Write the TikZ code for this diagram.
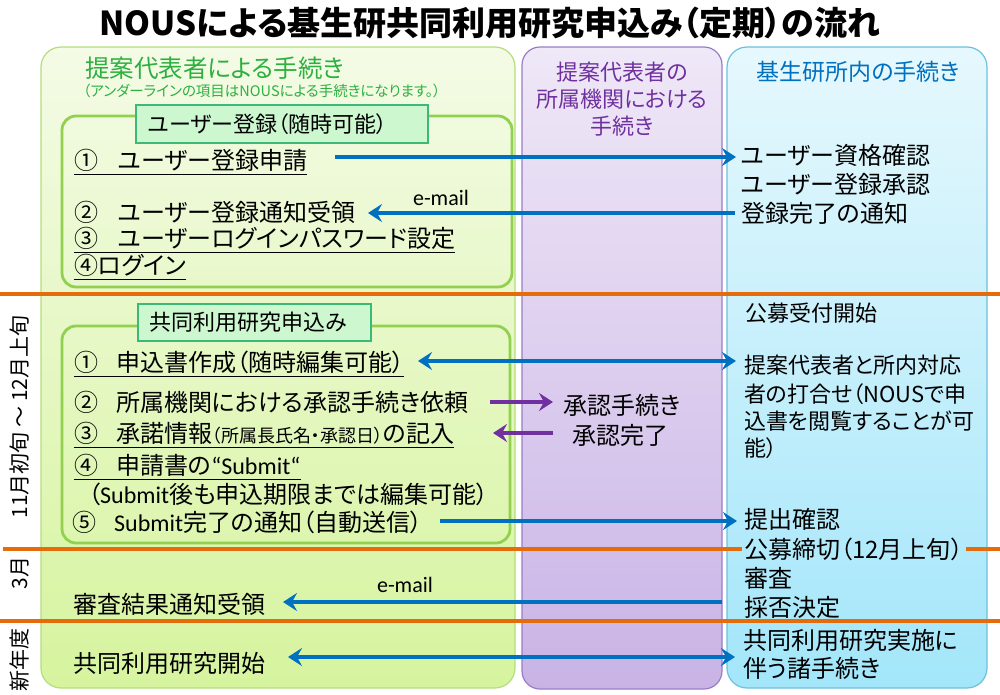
\documentclass[tikz,border=0pt]{standalone}
\usepackage{fontspec}
\setmainfont{Noto Sans CJK JP}[RawFeature=+palt]
\newfontfamily\lat{Carlito}
\usetikzlibrary{arrows.meta}
\definecolor{gTop}{HTML}{F4FBE6}
\definecolor{gBot}{HTML}{D6F49E}
\definecolor{gBord}{HTML}{B5DC7E}
\definecolor{pTop}{HTML}{EFE8F7}
\definecolor{pBot}{HTML}{C9B3E6}
\definecolor{pBord}{HTML}{9A7CC6}
\definecolor{bTop}{HTML}{E6F8FD}
\definecolor{bBot}{HTML}{A3E6FA}
\definecolor{bBord}{HTML}{6CC0DC}
\definecolor{inBord}{HTML}{92D050}
\definecolor{labFill}{HTML}{CCF7CF}
\definecolor{labBord}{HTML}{3CB878}
\definecolor{cOrange}{HTML}{E46C0A}
\definecolor{cBlue}{HTML}{0070C0}
\definecolor{cPurple}{HTML}{7030A0}
\definecolor{cGreen}{HTML}{2DB040}
\newsavebox\ulbox
\newcommand\myul[1]{\sbox\ulbox{#1}\rlap{\raisebox{-6pt}[0pt][0pt]{\rule{\wd\ulbox}{1.6pt}}}\usebox\ulbox}
\begin{document}
\begin{tikzpicture}[x=1pt,y=-1pt,
  lt/.style={anchor=west,inner sep=0pt,font=\fontsize{24}{28}\selectfont},
  rt/.style={anchor=west,inner sep=0pt,font=\fontsize{24}{28}\selectfont},
  rts/.style={anchor=west,inner sep=0pt,font=\fontsize{22}{26}\selectfont},
  labbox/.style={draw=labBord,fill=labFill,line width=1.5pt,anchor=north west,inner sep=0pt},
  labtxt/.style={anchor=west,inner sep=0pt,font=\fontsize{22}{26}\selectfont},
  inbox/.style={draw=inBord,line width=2.8pt,rounded corners=14pt},
  orangeline/.style={draw=cOrange,line width=3.8pt},
  barrow/.style={draw=cBlue,line width=3.6pt,-{Stealth[length=14pt,width=18pt,inset=5pt]}},
  bdarrow/.style={draw=cBlue,line width=3.6pt,{Stealth[length=14pt,width=18pt,inset=5pt]}-{Stealth[length=14pt,width=18pt,inset=5pt]}},
  parrow/.style={draw=cPurple,line width=3.6pt,-{Stealth[length=14pt,width=18pt,inset=5pt]}},
  mail/.style={inner sep=0pt,font=\lat\fontsize{22}{25}\selectfont},
  side/.style={inner sep=0pt,rotate=90,font=\fontsize{21}{24}\selectfont}
]
\useasboundingbox (0,0) rectangle (1000,694);
% columns
\shade[top color=gTop,bottom color=gBot,rounded corners=20pt] (41,47) rectangle (515,688);
\draw[gBord,line width=1.2pt,rounded corners=20pt] (41,47) rectangle (515,688);
\shade[top color=pTop,bottom color=pBot,rounded corners=18pt] (522,47) rectangle (722,689);
\draw[pBord,line width=1.2pt,rounded corners=18pt] (522,47) rectangle (722,689);
\shade[top color=bTop,bottom color=bBot,rounded corners=20pt] (727,47) rectangle (987,688);
\draw[bBord,line width=1.2pt,rounded corners=20pt] (727,47) rectangle (987,688);

% title
\node[inner sep=0pt,font=\bfseries\fontsize{33}{38}\selectfont] (title) at (490,23) {NOUSによる基生研共同利用研究申込み（定期）の流れ};

% headers
\node[anchor=west,inner sep=0pt,text=cGreen,font=\fontsize{24.5}{28}\selectfont] (ghead) at (85,68) {提案代表者による手続き};
\node[anchor=west,inner sep=0pt,text=cGreen,font=\fontsize{14.5}{17}\selectfont] (gnote) at (83,91) {（アンダーラインの項目はNOUSによる手続きになります。）};
\node[inner sep=0pt,text=cPurple,align=center,font=\fontsize{22}{27}\selectfont] (phead) at (622,99) {提案代表者の\\所属機関における\\手続き};
\node[inner sep=0pt,text=cBlue,font=\fontsize{23}{27}\selectfont] (bhead) at (858,72) {基生研所内の手続き};

% section 1
\draw[inbox] (62,116) rectangle (512,287);
\node[labbox,minimum width=292pt,minimum height=38pt] (L1) at (135,104) {};
\node[labtxt] (L1t) at ([xshift=13pt]L1.west) {ユーザー登録（随時可能）};
\node[lt] (u1) at (74,160) {\myul{①\hspace{20pt}ユーザー登録申請}};
\node[lt] (u2) at (74,212) {②\hspace{20pt}ユーザー登録通知受領};
\node[lt] (u3) at (74,238) {\myul{③\hspace{20pt}ユーザーログインパスワード設定}};
\node[lt] (u4) at (74,265) {\myul{④ログイン}};
\node[rt] (r1) at (741,155) {ユーザー資格確認};
\node[rt] (r2) at (741,184) {ユーザー登録承認};
\node[rt] (r3) at (741,213) {登録完了の通知};
\node[mail] (em1) at (441,198) {e-mail};
\coordinate (A1s) at (335,157); \coordinate (A1e) at (736,157);
\draw[barrow] (A1s) -- (A1e);
\coordinate (A2s) at (735,213); \coordinate (A2e) at (368,213);
\draw[barrow] (A2s) -- (A2e);

% orange line 1
\draw[orangeline] (0,294) -- (1000,294);

% section 2
\draw[inbox] (62,326) rectangle (510,543);
\node[labbox,minimum width=233pt,minimum height=37pt] (L2) at (137,303) {};
\node[labtxt] (L2t) at ([xshift=12pt]L2.west) {共同利用研究申込み};
\node[lt] (a1) at (74,362) {\myul{①\hspace{18pt}申込書作成（随時編集可能）}};
\node[lt] (a2) at (74,402) {②\hspace{18pt}所属機関における承認手続き依頼};
\node[lt] (a3) at (74,433) {\myul{③\hspace{18pt}承諾情報{\fontsize{18}{20}\selectfont（所属長氏名・承認日）}の記入}};
\node[lt] (a4) at (74,465) {\myul{④\hspace{18pt}申請書の{\lat “Submit“}}};
\node[lt] (a5) at (88,494) {（{\lat Submit}後も申込期限までは編集可能）};
\node[lt] (a6) at (72,522) {⑤\hspace{18pt}{\lat Submit}完了の通知（自動送信）};
\node[inner sep=0pt,font=\fontsize{24}{28}\selectfont] (p1) at (622,405) {承認手続き};
\node[inner sep=0pt,font=\fontsize{24}{28}\selectfont] (p2) at (620,435) {承認完了};
\node[rts] (s0) at (745,313) {公募受付開始};
\node[rts] (s1) at (744,365) {提案代表者と所内対応};
\node[rts] (s2) at (744,394) {者の打合せ（NOUSで申};
\node[rts] (s3) at (744,421) {込書を閲覧することが可};
\node[rts] (s4) at (744,448) {能）};
\node[rt] (s5) at (744,519) {提出確認};
\node[rt] (s6) at (744,549) {公募締切（12月上旬）};
\coordinate (B1s) at (418,361); \coordinate (B1e) at (736,361);
\draw[bdarrow] (B1s) -- (B1e);
\coordinate (P1s) at (490,402); \coordinate (P1e) at (553,402);
\draw[parrow] (P1s) -- (P1e);
\coordinate (P2s) at (553,433); \coordinate (P2e) at (493,433);
\draw[parrow] (P2s) -- (P2e);
\coordinate (B2s) at (440,521); \coordinate (B2e) at (737,521);
\draw[barrow] (B2s) -- (B2e);

% orange line 2 (interrupted by the deadline text)
\coordinate (O2a) at (3,549); \coordinate (O2b) at (1000,549);
\draw[orangeline] (O2a) -- ([xshift=-2pt]s6.west |- O2a);
\draw[orangeline] ([xshift=3pt]s6.east |- O2a) -- (O2b);

% section 3
\node[rt] (s7) at (744,578) {審査};
\node[rt] (s8) at (744,607) {採否決定};
\node[lt] (res) at (73,604) {審査結果通知受領};
\node[mail] (em2) at (405,585) {e-mail};
\coordinate (C1s) at (722,602); \coordinate (C1e) at (283,602);
\draw[barrow] (C1s) -- (C1e);

\draw[orangeline] (0,621) -- (1000,621);

\node[lt] (start) at (73,663) {共同利用研究開始};
\node[rt] (i1) at (743,640) {共同利用研究実施に};
\node[rt] (i2) at (743,668) {伴う諸手続き};
\coordinate (D1s) at (288,657); \coordinate (D1e) at (735,657);
\draw[bdarrow] (D1s) -- (D1e);

% side labels
\node[side] (sl1) at (20,417) {11月初旬 ～ 12月上旬};
\node[side] (sl2) at (20,573) {3月};
\node[side] (sl3) at (20,660) {新年度};
\end{tikzpicture}
\end{document}
